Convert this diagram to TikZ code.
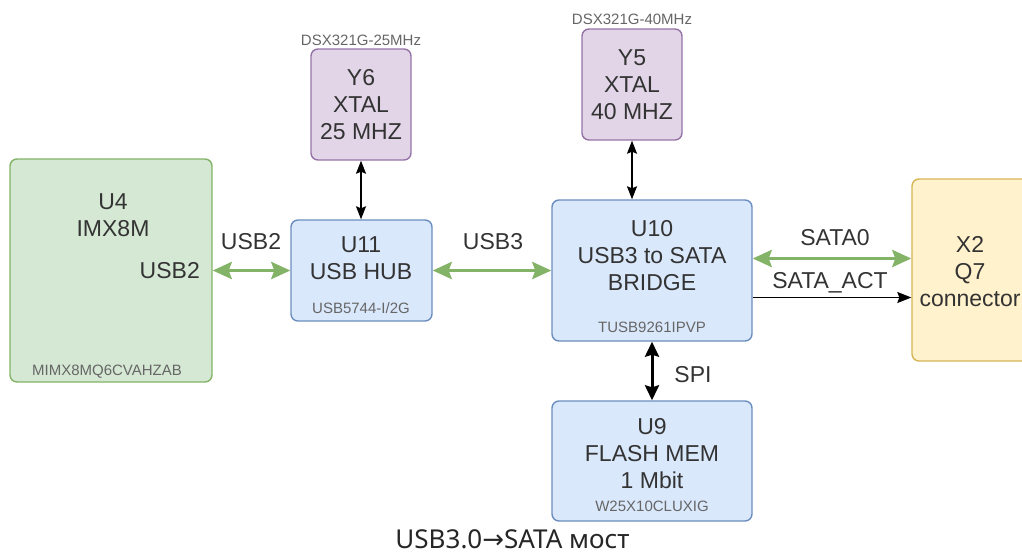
\documentclass[tikz,border=0pt]{standalone}
\usepackage{fontspec}
\setmainfont{Liberation Sans}
\newfontfamily\capfont{Noto Sans}
\newfontfamily\symfont{DejaVu Sans}
\usetikzlibrary{arrows.meta, positioning}
\definecolor{grfill}{HTML}{D5E8D4}
\definecolor{grline}{HTML}{82B366}
\definecolor{blfill}{HTML}{DAE8FC}
\definecolor{blline}{HTML}{6C8EBF}
\definecolor{pufill}{HTML}{E1D5E7}
\definecolor{puline}{HTML}{9673A6}
\definecolor{yefill}{HTML}{FFF2CC}
\definecolor{yeline}{HTML}{D6B656}
\definecolor{dktxt}{HTML}{333333}
\definecolor{parttxt}{HTML}{666666}

\begin{document}
\begin{tikzpicture}[
    x=1pt, y=-1pt,
    every node/.style={text=dktxt},
    box/.style={draw, rounded corners=7pt, line width=1.4pt, inner sep=0pt},
    bluebox/.style={box, fill=blfill, draw=blline},
    xtalbox/.style={box, fill=pufill, draw=puline, minimum width=100pt, minimum height=111pt},
    mainlbl/.style={font=\fontsize{23}{27}\selectfont, align=center, inner sep=0pt},
    partlbl/.style={font=\fontsize{15}{18}\selectfont, text=parttxt, inner sep=0pt},
    bus/.style={grline, line width=3.5pt,
      {Stealth[length=19pt, width=17pt, inset=3pt]}-{Stealth[length=19pt, width=17pt, inset=3pt]}},
    clk/.style={black, line width=1.5pt,
      {Stealth[length=13pt, width=10pt, inset=2pt]}-{Stealth[length=13pt, width=10pt, inset=2pt]}},
    spibus/.style={black, line width=3pt,
      {Stealth[length=15pt, width=14pt, inset=2pt]}-{Stealth[length=15pt, width=14pt, inset=2pt]}},
    sig/.style={black, line width=1.5pt, -{Stealth[length=14pt, width=11pt, inset=2pt]}},
  ]

  \useasboundingbox (0,0) rectangle (1022,552);
  \clip (0,0) rectangle (1022,552);

  % === Blocks ===
  \node[box, fill=grfill, draw=grline, minimum width=202pt, minimum height=223pt] (u4) at (111,270.5) {};
  \node[bluebox, minimum width=141pt, minimum height=101pt] (u11) at (361.5,270.5) {};
  \node[xtalbox] (y6) at (361,104.5) {};
  \node[xtalbox] (y5) at (632,84.5) {};
  \node[bluebox, minimum width=200pt, minimum height=141pt] (u10) at (652,270.5) {};
  \node[box, fill=yefill, draw=yeline, minimum width=118pt, minimum height=182pt] (x2) at (971,270) {};
  \node[bluebox, minimum width=200pt, minimum height=120pt] (u9) at (652,461) {};

  % === Block texts ===
  \node[mainlbl] (u4txt) at (113,215) {U4\\IMX8M};
  \node[mainlbl, anchor=east] (u4usb) at (200,271) {USB2};
  \node[partlbl] (u4part) at (107,372) {MIMX8MQ6CVAHZAB};

  \node[mainlbl] (u11txt) at (361,258.5) {U11\\USB HUB};
  \node[partlbl] (u11part) at (361,308) {USB5744-I/2G};

  \node[mainlbl] (y6txt) at (361,105) {Y6\\XTAL\\25 MHZ};
  \node[partlbl] (y6part) at (361,40) {DSX321G-25MHz};

  \node[mainlbl] (y5txt) at (632,85) {Y5\\XTAL\\40 MHZ};
  \node[partlbl] (y5part) at (632,19) {DSX321G-40MHz};

  \node[mainlbl] (u10txt) at (652,256) {U10\\USB3 to SATA\\BRIDGE};
  \node[partlbl] (u10part) at (652,327) {TUSB9261IPVP};

  \node[mainlbl] (x2txt) at (970,271.5) {X2\\Q7\\connector};

  \node[mainlbl] (u9txt) at (652,454) {U9\\FLASH MEM\\1 Mbit};
  \node[partlbl] (u9part) at (652,506) {W25X10CLUXIG};

  % === Connectors ===
  \draw[bus] (u4.east) -- (u11.west);
  \draw[bus] (u11.east) -- (u10.west);
  \draw[clk] (y6.south) -- (y6.south |- u11.north);
  \draw[clk] (y5.south) -- (y5.south |- u10.north);
  \draw[bus] ([yshift=12pt]u10.east) -- ([yshift=12pt]u10.east -| x2.west);
  \draw[sig] ([yshift=-27pt]u10.east) -- ([yshift=-27pt]u10.east -| x2.west);
  \draw[spibus] (u10.south) -- (u9.north);

  % connector labels
  \node[mainlbl] (usb2lbl) at (251,242) {USB2};
  \node[mainlbl] (usb3lbl) at (493,242) {USB3};
  \node[mainlbl] (sata0lbl) at (835,238) {SATA0};
  \node[mainlbl] (sataactlbl) at (830,283) {SATA\_ACT};
  \node[mainlbl] (spilbl) at (693,375) {SPI};

  % === Caption ===
  \node[font=\fontsize{26}{30}\selectfont\capfont, text=black!85, inner sep=0pt, text depth=0pt, anchor=base] (caption) at (512.5,548)
    {USB3.0{\symfont →}SATA мост};

\end{tikzpicture}
\end{document}
